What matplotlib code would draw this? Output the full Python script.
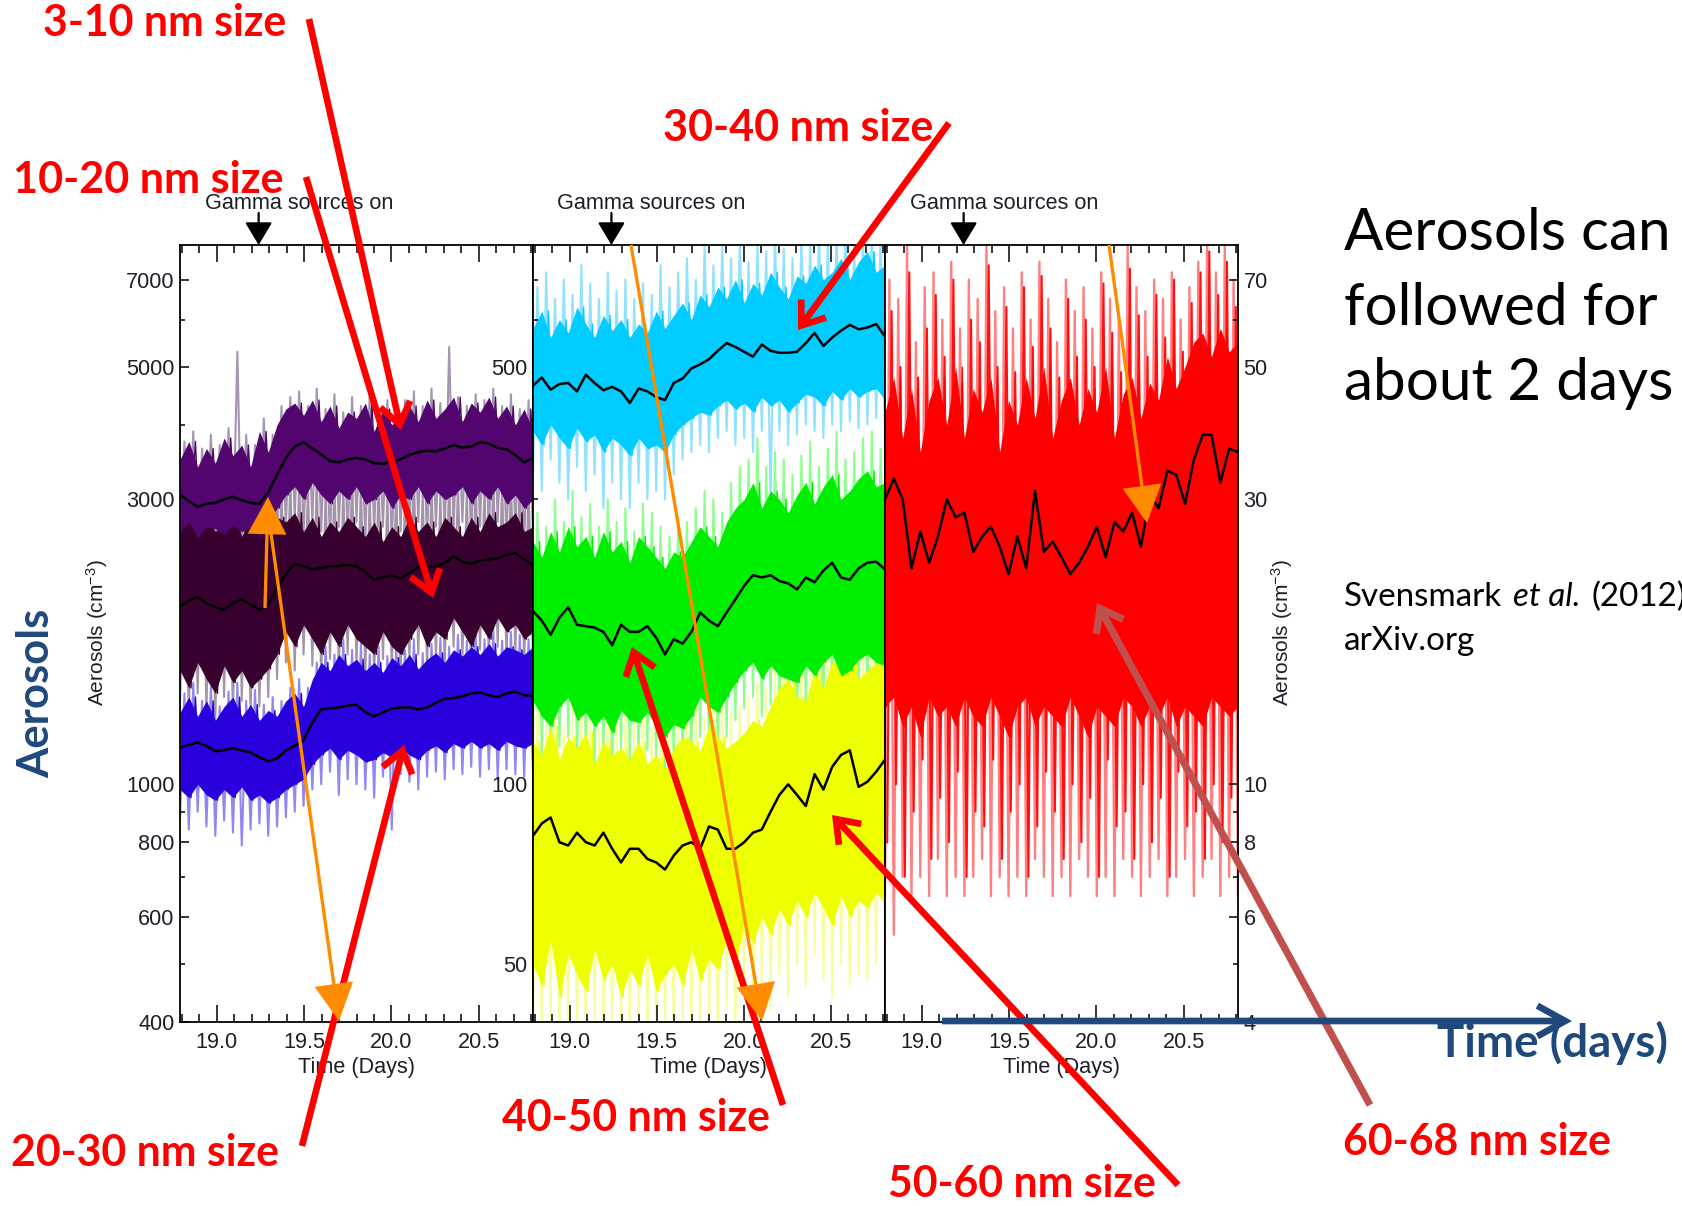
import numpy as np
import matplotlib
matplotlib.use("Agg")
import matplotlib.pyplot as plt
from matplotlib.patches import FancyArrowPatch
from matplotlib.ticker import FixedLocator, FixedFormatter, NullFormatter
from matplotlib.transforms import blended_transform_factory

plt.rcParams['font.family'] = ['Liberation Sans', 'DejaVu Sans']
plt.rcParams['mathtext.fontset'] = 'custom'
plt.rcParams['mathtext.rm'] = 'Liberation Sans'
plt.rcParams['mathtext.it'] = 'Liberation Sans:italic'
plt.rcParams['mathtext.bf'] = 'Liberation Sans:bold'

# ------------------------------------------------------------------ data
t_days = np.linspace(18.79, 20.81, 41)          # sampling grid (days)
gamma_on_day = 19.24

x_major = [19.0, 19.5, 20.0, 20.5]
x_major_labels = ["19.0", "19.5", "20.0", "20.5"]
x_minor = [18.8, 18.9, 19.1, 19.2, 19.3, 19.4, 19.6, 19.7, 19.8, 19.9,
           20.1, 20.2, 20.3, 20.4, 20.6, 20.7, 20.8]

p1_ylim = (400, 8000)
p1_major = [400, 600, 800, 1000, 3000, 5000, 7000]
p1_minor = [500, 700, 900, 2000, 4000, 6000]
p2_ylim = (40, 800)
p2_major = [50, 100, 500]
p2_minor = [60, 70, 80, 90, 200, 300, 400, 600, 700]
p3_ylim = (4, 80)
p3_major = [4, 6, 8, 10, 30, 50, 70]
p3_minor = [5, 7, 9, 20, 40, 60]

# 3-10 nm
nm3_10_mean = [3055, 2980, 2915, 2950, 2960, 3000, 3030, 2990, 2960, 2950, 3080, 3300, 3520, 3680, 3740, 3650, 3570, 3480, 3460, 3500, 3520, 3500, 3450, 3440, 3470, 3500, 3560, 3600, 3620, 3610, 3650, 3700, 3660, 3680, 3740, 3720, 3660, 3640, 3560, 3460, 3520]
nm3_10_hi = [3500, 3750, 3400, 3650, 3450, 3800, 3550, 3700, 3400, 3900, 3600, 4000, 4250, 4350, 4150, 4400, 4050, 4300, 3950, 4200, 4100, 4350, 3900, 4250, 4000, 4200, 4300, 4050, 4400, 4100, 4250, 4450, 4050, 4350, 4200, 4450, 4100, 4300, 4000, 4250, 3900]
nm3_10_lo = [2650, 2750, 2600, 2700, 2680, 2620, 2720, 2650, 2700, 2600, 2750, 2900, 3050, 3150, 3000, 3200, 3050, 2950, 3100, 3000, 3150, 2950, 3000, 3100, 2900, 3050, 3000, 3150, 2950, 3100, 3000, 3050, 3150, 2950, 3100, 3000, 3150, 2950, 3050, 2900, 3000]
nm3_10_raw_hi = [3750, 3900, 3650, 3850, 3700, 3950, 5300, 3850, 3700, 4100, 3850, 4300, 4450, 4550, 4300, 4600, 4250, 4500, 4200, 4450, 4300, 4550, 4150, 4400, 4250, 4400, 4550, 4300, 4600, 4350, 5400, 4450, 4300, 4500, 4400, 4600, 4300, 4500, 4250, 4400, 4100]
nm3_10_raw_lo = [2400, 2500, 2350, 2550, 2450, 2300, 2500, 2400, 2550, 2350, 2450, 2600, 2700, 2800, 2600, 2750, 2650, 2550, 2700, 2600, 2750, 2550, 2650, 2700, 2500, 2650, 2600, 2750, 2550, 2700, 2600, 2650, 2750, 2550, 2700, 2600, 2750, 2550, 2650, 2500, 2600]

# 10-20 nm
nm10_20_mean = [1985, 2030, 2060, 2010, 1980, 1960, 2010, 2040, 2000, 1960, 2000, 2130, 2250, 2340, 2320, 2290, 2300, 2320, 2320, 2330, 2320, 2270, 2200, 2220, 2240, 2210, 2260, 2310, 2320, 2310, 2350, 2410, 2360, 2340, 2370, 2380, 2390, 2420, 2440, 2380, 2330]
nm10_20_hi = [2700, 2850, 2600, 2800, 2650, 2750, 2850, 2600, 2800, 2650, 2750, 2800, 2750, 2850, 2650, 2800, 2600, 2750, 2650, 2800, 2700, 2600, 2750, 2550, 2700, 2600, 2800, 2650, 2750, 2600, 2800, 2700, 2600, 2800, 2650, 2850, 2700, 2750, 2850, 2650, 2700]
nm10_20_lo = [1550, 1450, 1600, 1500, 1420, 1580, 1480, 1550, 1450, 1500, 1560, 1650, 1800, 1700, 1850, 1750, 1650, 1800, 1700, 1850, 1750, 1700, 1650, 1800, 1700, 1650, 1750, 1850, 1700, 1800, 1750, 1900, 1800, 1700, 1850, 1750, 1900, 1800, 1850, 1750, 1800]
nm10_20_raw_hi = [3000, 3100, 2900, 3150, 2950, 3050, 3200, 2950, 3100, 2900, 3050, 3200, 3300, 3250, 3150, 3300, 3100, 3250, 3150, 3300, 3200, 3100, 3250, 3050, 3200, 3150, 3300, 3100, 3250, 3050, 3300, 3200, 3100, 3300, 3150, 3300, 3200, 3250, 3300, 3150, 3200]
nm10_20_raw_lo = [1350, 1300, 1420, 1320, 1280, 1400, 1300, 1380, 1300, 1350, 1400, 1500, 1600, 1550, 1650, 1580, 1500, 1620, 1550, 1650, 1580, 1520, 1500, 1620, 1550, 1480, 1600, 1650, 1550, 1620, 1580, 1700, 1620, 1550, 1680, 1600, 1700, 1620, 1650, 1580, 1620]

# 20-30 nm
nm20_30_mean = [1153, 1165, 1175, 1160, 1136, 1140, 1150, 1140, 1131, 1110, 1093, 1105, 1140, 1160, 1185, 1270, 1335, 1340, 1345, 1355, 1360, 1320, 1300, 1320, 1340, 1345, 1345, 1335, 1345, 1370, 1390, 1395, 1405, 1420, 1425, 1410, 1400, 1420, 1430, 1410, 1405]
nm20_30_hi = [1320, 1400, 1300, 1380, 1280, 1350, 1400, 1300, 1360, 1280, 1330, 1300, 1380, 1420, 1350, 1500, 1600, 1550, 1650, 1580, 1620, 1550, 1600, 1540, 1630, 1580, 1650, 1560, 1620, 1660, 1600, 1680, 1640, 1700, 1650, 1720, 1640, 1700, 1680, 1650, 1700]
nm20_30_lo = [980, 950, 1000, 960, 940, 980, 950, 990, 940, 960, 930, 950, 980, 1000, 1020, 1080, 1120, 1150, 1100, 1140, 1120, 1090, 1100, 1130, 1110, 1150, 1120, 1100, 1140, 1160, 1130, 1170, 1150, 1180, 1150, 1170, 1140, 1180, 1160, 1150, 1170]
nm20_30_raw_hi = [1420, 1480, 1380, 1460, 1350, 1430, 1480, 1380, 1440, 1360, 1400, 1380, 1450, 1500, 1450, 1600, 1700, 1650, 1750, 1680, 1720, 1650, 1700, 1640, 1730, 1680, 1750, 1660, 1720, 1760, 1700, 1780, 1740, 1800, 1750, 1820, 1740, 1800, 1780, 1750, 1800]
nm20_30_raw_lo = [880, 840, 900, 850, 820, 870, 830, 790, 840, 860, 820, 850, 880, 900, 920, 980, 1000, 1050, 960, 1020, 1000, 980, 950, 1030, 840, 1040, 1010, 980, 1030, 1050, 1020, 1060, 1040, 1070, 1030, 1060, 1020, 1060, 1040, 1030, 1050]

# 30-40 nm
nm30_40_mean = [465, 480, 458, 468, 470, 455, 485, 470, 457, 463, 455, 435, 460, 455, 445, 440, 470, 478, 497, 505, 515, 532, 548, 540, 530, 520, 545, 532, 528, 528, 530, 548, 570, 542, 560, 575, 588, 578, 582, 590, 562]
nm30_40_hi = [580, 620, 560, 600, 570, 630, 590, 560, 610, 575, 600, 560, 590, 570, 620, 580, 610, 640, 600, 660, 630, 680, 650, 700, 640, 690, 660, 720, 680, 650, 710, 690, 740, 700, 720, 760, 700, 750, 780, 720, 740]
nm30_40_lo = [390, 370, 400, 380, 365, 395, 375, 385, 360, 380, 370, 355, 380, 365, 370, 360, 385, 400, 410, 420, 415, 430, 440, 425, 435, 420, 445, 430, 440, 420, 435, 450, 445, 430, 455, 440, 460, 445, 455, 460, 440]
nm30_40_raw_hi = [680, 720, 650, 700, 660, 740, 690, 650, 720, 670, 700, 650, 690, 660, 740, 680, 720, 760, 700, 800, 740, 800, 760, 820, 750, 800, 780, 840, 790, 760, 830, 800, 850, 810, 830, 850, 800, 840, 860, 820, 850]
nm30_40_raw_lo = [330, 310, 350, 320, 300, 340, 310, 330, 290, 320, 300, 290, 320, 300, 310, 300, 330, 350, 360, 370, 360, 380, 390, 370, 380, 360, 390, 300, 390, 370, 385, 400, 390, 380, 400, 390, 405, 395, 400, 410, 390]

# 40-50 nm
nm40_50_mean = [195, 188, 178, 190, 198, 185, 184, 183, 180, 171, 185, 180, 180, 184, 176, 165, 175, 172, 180, 194, 188, 184, 194, 204, 215, 224, 222, 224, 219, 217, 212, 222, 218, 228, 235, 222, 220, 230, 235, 236, 229]
nm40_50_hi = [255, 240, 265, 245, 270, 250, 260, 240, 265, 245, 255, 235, 260, 250, 240, 230, 245, 240, 255, 270, 260, 250, 275, 290, 300, 320, 290, 310, 300, 285, 305, 320, 295, 315, 330, 300, 310, 325, 335, 315, 320]
nm40_50_lo = [138, 130, 125, 135, 140, 128, 132, 125, 130, 122, 133, 128, 127, 132, 125, 120, 126, 124, 130, 140, 135, 132, 140, 148, 155, 160, 150, 158, 152, 150, 148, 158, 152, 160, 165, 152, 155, 162, 165, 160, 158]
nm40_50_raw_hi = [285, 270, 300, 275, 310, 280, 295, 270, 300, 275, 290, 265, 295, 285, 270, 260, 280, 275, 290, 310, 300, 285, 320, 340, 350, 380, 340, 360, 350, 330, 355, 375, 340, 365, 390, 350, 360, 380, 390, 365, 375]
nm40_50_raw_lo = [118, 112, 108, 116, 120, 110, 114, 108, 112, 105, 115, 110, 108, 114, 108, 104, 108, 106, 112, 120, 116, 114, 120, 128, 134, 140, 130, 136, 132, 128, 126, 136, 130, 138, 142, 130, 134, 140, 142, 138, 136]

# 50-60 nm
nm50_60_mean = [82, 86, 88, 80, 79, 83, 80, 79, 83, 78, 74, 78, 78, 75, 74, 72, 76, 79, 80, 78, 85, 84, 78, 78, 80, 83, 84, 90, 96, 100, 96, 92, 104, 98, 107, 112, 114, 99, 101, 105, 110]
nm50_60_hi = [118, 112, 125, 110, 120, 115, 122, 108, 118, 112, 115, 110, 118, 108, 112, 106, 115, 120, 118, 114, 125, 120, 115, 118, 122, 128, 125, 135, 145, 150, 140, 138, 155, 145, 160, 165, 170, 150, 155, 160, 165]
nm50_60_lo = [50, 46, 55, 44, 52, 48, 45, 53, 47, 50, 44, 49, 46, 52, 45, 48, 50, 46, 53, 47, 51, 49, 55, 50, 58, 54, 60, 56, 62, 58, 64, 60, 66, 62, 58, 65, 60, 64, 62, 66, 63]
nm50_60_raw_hi = [135, 128, 142, 125, 138, 130, 140, 124, 135, 128, 132, 126, 135, 124, 130, 122, 132, 138, 135, 130, 145, 138, 132, 135, 140, 148, 145, 155, 168, 175, 160, 160, 180, 168, 185, 190, 195, 175, 180, 185, 190]
nm50_60_raw_lo = [38, 38, 40, 38, 39, 38, 38, 40, 38, 39, 38, 38, 39, 38, 38, 39, 38, 38, 40, 38, 39, 38, 42, 38, 45, 40, 46, 42, 48, 44, 50, 46, 52, 47, 44, 50, 46, 48, 47, 50, 48]

# 60-68 nm
nm60_68_mean = [30, 32.5, 30, 23, 26.5, 23.5, 26, 30, 28, 28.5, 24.5, 26, 27, 25, 22.5, 26, 23, 31, 24.5, 25.5, 24, 22.5, 23.5, 25, 27, 24, 27.5, 26.5, 28.5, 25, 30.5, 29, 33.5, 33, 29.5, 35, 38.5, 38.5, 32, 36.5, 36]
nm60_68_hi = [42, 48, 38, 46, 36, 44, 48, 40, 50, 38, 46, 42, 48, 36, 44, 40, 48, 41, 50, 38, 44, 48, 40, 46, 42, 50, 38, 45, 48, 41, 47, 44, 52, 46, 50, 55, 57, 52, 58, 53, 55]
nm60_68_lo = [13.5, 14, 12.5, 13.5, 12, 14, 13, 13.5, 12.5, 14, 13, 12.5, 14, 13, 12, 13.5, 14, 12.5, 13.5, 13, 12.5, 14, 13, 12, 13.5, 13, 12.5, 14, 13.5, 12.5, 13.5, 13, 14, 12.5, 13.5, 13, 12.5, 14, 13.5, 13, 13.5]
nm60_68_raw_hi = [70, 65, 80, 55, 68, 72, 60, 75, 58, 70, 65, 80, 62, 68, 58, 72, 60, 75, 65, 55, 70, 62, 68, 58, 72, 65, 60, 80, 68, 62, 70, 65, 72, 60, 68, 75, 80, 72, 80, 70, 78]
nm60_68_raw_lo = [6.5, 5.6, 7, 6.5, 7, 6.5, 7.5, 6.5, 7, 6.5, 7, 7.5, 6.5, 7, 6.5, 7, 6.5, 7.5, 7, 6.5, 7, 6.5, 7.5, 7, 6.5, 7, 6.5, 7.5, 7, 6.5, 7, 7.5, 6.5, 7, 7.5, 6.5, 7, 7.5, 6.5, 7, 6.5]
nm60_68_spk_hi = [62, 50, 72, 48, 58, 66, 52, 70, 47, 60, 55, 74, 50, 63, 49, 68, 54, 71, 58, 48, 65, 52, 60, 50, 69, 57, 49, 73, 61, 52, 66, 56, 70, 53, 64, 72, 78, 66, 75, 63, 72]
nm60_68_spk_lo = [8, 10, 7, 9, 11, 7.5, 9.5, 8, 10.5, 7, 9, 8.5, 11, 7.5, 9, 10, 7, 8.5, 10.5, 9, 7.5, 10, 8, 9.5, 7, 11, 8.5, 9, 7.5, 10, 8, 9.5, 7, 10.5, 8.5, 9, 7.5, 10, 8, 9.5, 7.5]

size_labels = ["3-10 nm size", "10-20 nm size", "20-30 nm size", "30-40 nm size",
               "40-50 nm size", "50-60 nm size", "60-68 nm size"]

# ------------------------------------------------------------------ figure
W, H = 1682, 1206
fig = plt.figure(figsize=(W / 100, H / 100), dpi=100)
fig.patch.set_facecolor('white')


def px_rect(x0, x1, y0, y1):
    return [x0 / W, 1 - y1 / H, (x1 - x0) / W, (y1 - y0) / H]


ax1 = fig.add_axes(px_rect(180, 533, 245, 1022))
ax2 = fig.add_axes(px_rect(533, 885, 245, 1022))
ax3 = fig.add_axes(px_rect(885, 1238, 245, 1022))

TXT = '#1e1e28'
FS = 15.6


def style(ax, ylim, major, minor, side):
    ax.set_yscale('log')
    ax.set_xlim(18.79, 20.81)
    ax.set_ylim(*ylim)
    ax.xaxis.set_major_locator(FixedLocator(x_major))
    ax.xaxis.set_major_formatter(FixedFormatter(x_major_labels))
    ax.xaxis.set_minor_locator(FixedLocator(x_minor))
    ax.yaxis.set_major_locator(FixedLocator(major))
    ax.yaxis.set_major_formatter(FixedFormatter([str(v) for v in major]))
    ax.yaxis.set_minor_locator(FixedLocator(minor))
    ax.yaxis.set_minor_formatter(NullFormatter())
    ax.tick_params(axis='x', which='both', direction='in', top=True, bottom=True,
                   labelsize=FS, labelcolor=TXT, pad=7, width=1.1)
    ax.tick_params(axis='x', which='major', length=12)
    ax.tick_params(axis='x', which='minor', length=6)
    if side == 'left':
        ax.tick_params(axis='y', which='both', direction='in', left=True, right=False,
                       labelleft=True, labelright=False, labelsize=FS, labelcolor=TXT,
                       pad=4, width=1.1)
    else:
        ax.tick_params(axis='y', which='both', direction='in', left=False, right=True,
                       labelleft=False, labelright=True, labelsize=FS, labelcolor=TXT,
                       pad=4, width=1.1)
    ax.tick_params(axis='y', which='major', length=6.5)
    ax.tick_params(axis='y', which='minor', length=3.6)
    for s in ax.spines.values():
        s.set_linewidth(1.3)
    ax.set_xlabel("Time (Days)", fontsize=FS, color=TXT, labelpad=3)
    trans = blended_transform_factory(ax.transData, ax.transAxes)
    ax.text(19.47, 1.054, "Gamma sources on", transform=trans, ha='center', va='center',
            fontsize=FS, color=TXT, clip_on=False)
    ax.annotate('', xy=(gamma_on_day, 1.0), xytext=(gamma_on_day, 1.0 + 32 / 777),
                xycoords=trans, textcoords=trans, annotation_clip=False,
                arrowprops=dict(arrowstyle='-|>,head_length=0.7,head_width=0.42',
                                mutation_scale=20, color='black', lw=1.6,
                                shrinkA=0, shrinkB=0))


def zigzag(t, lo, hi, off_lo=0.0, off_hi=0.5):
    t = np.asarray(t)
    dt = t[1] - t[0]
    xz = np.empty(2 * len(t))
    yz = np.empty(2 * len(t))
    xz[0::2] = t + dt * off_lo
    xz[1::2] = t + dt * off_hi
    yz[0::2] = lo
    yz[1::2] = hi
    return xz, yz


def draw_raw(ax, raw_lo, raw_hi, c_light, lw=1.5, off_lo=0.0, off_hi=0.5, z=1):
    xz, yz = zigzag(t_days, raw_lo, raw_hi, off_lo, off_hi)
    ax.plot(xz, yz, color=c_light, lw=lw, zorder=z)


def draw_band(ax, lo, hi, c_dark):
    ax.fill_between(t_days, lo, hi, color=c_dark, lw=0, zorder=2)
    xz, yz = zigzag(t_days, lo, hi, 0.25, 0.75)
    ax.plot(xz, yz, color=c_dark, lw=1.0, zorder=2)


def draw_mean(ax, mean):
    ax.plot(t_days, mean, color='black', lw=1.8, zorder=4)


series = {
    'p1': [
        (nm20_30_mean, nm20_30_lo, nm20_30_hi, nm20_30_raw_lo, nm20_30_raw_hi, '#2A00DC', '#8F88F2'),
        (nm10_20_mean, nm10_20_lo, nm10_20_hi, nm10_20_raw_lo, nm10_20_raw_hi, '#38002F', '#A494A6'),
        (nm3_10_mean, nm3_10_lo, nm3_10_hi, nm3_10_raw_lo, nm3_10_raw_hi, '#52046F', '#A595B3'),
    ],
    'p2': [
        (nm50_60_mean, nm50_60_lo, nm50_60_hi, nm50_60_raw_lo, nm50_60_raw_hi, '#EEFF00', '#F8FF9A'),
        (nm40_50_mean, nm40_50_lo, nm40_50_hi, nm40_50_raw_lo, nm40_50_raw_hi, '#00EE00', '#8CFF8C'),
        (nm30_40_mean, nm30_40_lo, nm30_40_hi, nm30_40_raw_lo, nm30_40_raw_hi, '#00CCFF', '#8FE3FF'),
    ],
    'p3': [
        (nm60_68_mean, nm60_68_lo, nm60_68_hi, nm60_68_raw_lo, nm60_68_raw_hi, '#FF0000', '#FF8080'),
    ],
}

for ax, key in [(ax1, 'p1'), (ax2, 'p2'), (ax3, 'p3')]:
    for m, lo, hi, rlo, rhi, cd, cl in series[key]:
        draw_raw(ax, rlo, rhi, cl, lw=1.7 if key == 'p3' else 1.5)
    if key == 'p3':
        draw_raw(ax, nm60_68_spk_lo, nm60_68_spk_hi, '#FF1010', lw=1.5,
                 off_lo=0.25, off_hi=0.75, z=1.5)
    for m, lo, hi, rlo, rhi, cd, cl in series[key]:
        draw_band(ax, lo, hi, cd)
    for m, lo, hi, rlo, rhi, cd, cl in series[key]:
        draw_mean(ax, m)

style(ax1, p1_ylim, p1_major, p1_minor, 'left')
style(ax2, p2_ylim, p2_major, p2_minor, 'left')
style(ax3, p3_ylim, p3_major, p3_minor, 'right')

# ------------------------------------------------------------------ overlay
ov = fig.add_axes([0, 0, 1, 1], zorder=10)
ov.set_xlim(0, W)
ov.set_ylim(H, 0)
ov.axis('off')
renderer = fig.canvas.get_renderer()


def fit_width(s, x0, x1, yb, **kw):
    t = ov.text(x0, yb, s, ha='left', va='baseline', fontsize=30, **kw)
    w = t.get_window_extent(renderer).width
    fs = 30 * (x1 - x0) / w
    t.set_fontsize(fs)
    return t, fs


ov.text(97, 633, "Aerosols (cm$^{-3}$)", rotation=90, ha='center', va='center',
        fontsize=15, color=TXT)
ov.text(1282, 633, "Aerosols (cm$^{-3}$)", rotation=90, ha='center', va='center',
        fontsize=15, color=TXT)

RED = '#FF0000'
lab_kw = dict(color=RED, fontweight='bold', family='Lato')
fit_width(size_labels[0], 43, 287, 36, **lab_kw)
fit_width(size_labels[1], 13, 283, 193, **lab_kw)
fit_width(size_labels[3], 663, 933, 141, **lab_kw)
fit_width(size_labels[2], 11, 279, 1166, **lab_kw)
fit_width(size_labels[4], 502, 770, 1131, **lab_kw)
fit_width(size_labels[5], 888, 1156, 1197, **lab_kw)
fit_width(size_labels[6], 1343, 1612, 1155, **lab_kw)

BLUE = '#1F497D'
t_a = ov.text(36, 693, "Aerosols", rotation=90, ha='center', va='center', fontsize=30,
              fontweight='bold', family='Lato', color=BLUE)
h = t_a.get_window_extent(renderer).height
t_a.set_fontsize(30 * 169 / h)
fit_width("Time (days)", 1437, 1668, 1057, color=BLUE, fontweight='bold', family='Lato')

_, fs_big = fit_width("about 2 days", 1344, 1673, 400, color='black', family='Lato')
ov.text(1344, 250, "Aerosols can", ha='left', va='baseline', fontsize=fs_big,
        color='black', family='Lato')
ov.text(1344, 325, "followed for", ha='left', va='baseline', fontsize=fs_big,
        color='black', family='Lato')

_, fs_ref = fit_width("arXiv.org", 1344, 1475, 650, color='black', family='Lato')
t1 = ov.text(1344, 606, "Svensmark", ha='left', va='baseline', fontsize=fs_ref,
             color='black', family='Lato')
gap = 0.33 * fs_ref * 100 / 72
x2 = 1344 + t1.get_window_extent(renderer).width + gap
t2 = ov.text(x2, 606, "et al.", ha='left', va='baseline', fontsize=fs_ref,
             color='black', family='Lato', style='italic')
x3 = x2 + t2.get_window_extent(renderer).width + gap
ov.text(x3, 606, "(2012)", ha='left', va='baseline', fontsize=fs_ref,
        color='black', family='Lato')


def arrow(p0, p1, color, lw, style):
    ov.add_patch(FancyArrowPatch(p0, p1, arrowstyle=style, mutation_scale=20,
                                 color=color, lw=lw, shrinkA=0, shrinkB=0,
                                 joinstyle='miter', capstyle='butt'))


chev = '->,head_length=0.75,head_width=0.55'
arrow((309, 19), (401, 430), RED, 4.8, chev)
arrow((306, 177), (433, 598), RED, 4.8, chev)
arrow((949, 123), (798, 330), RED, 4.8, chev)
arrow((302, 1146), (404, 745), RED, 4.8, chev)
arrow((783, 1105), (632, 647), RED, 4.8, chev)
arrow((1178, 1185), (832, 815), RED, 4.8, chev)
arrow((1370, 1105), (1097, 603), '#C0504D', 5.2, chev)

ORANGE = '#FF8C00'
tri = '-|>,head_length=1.15,head_width=0.6'
arrow((265, 608), (268, 497), ORANGE, 2.4, tri)
arrow((268, 512), (339, 1021), ORANGE, 2.4, tri)
arrow((631, 245), (762, 1021), ORANGE, 2.4, tri)
arrow((1109, 245), (1147, 523), ORANGE, 2.4, tri)

arrow((942, 1021), (1572, 1021), BLUE, 4.8, '->,head_length=1.0,head_width=0.55')

fig.savefig('out.png', dpi=100)
